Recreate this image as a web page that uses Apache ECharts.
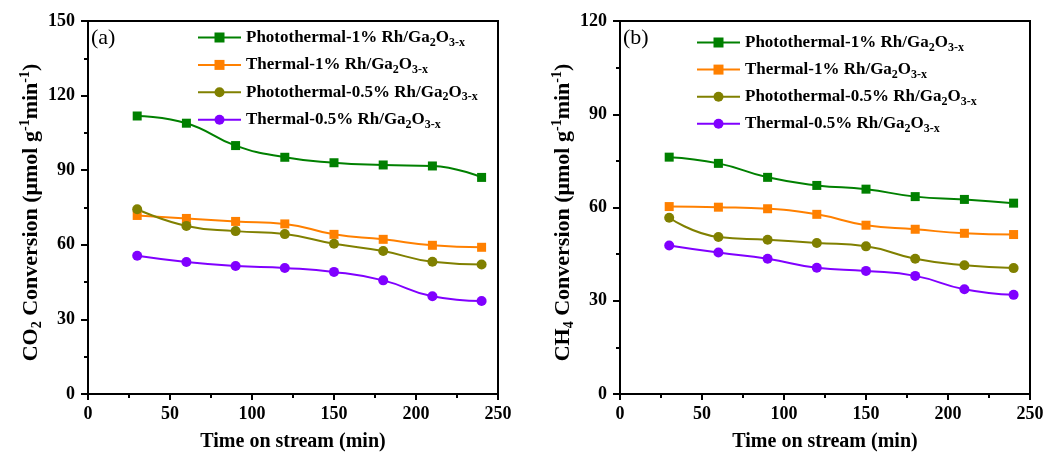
<!DOCTYPE html>
<html>
<head>
<meta charset="utf-8">
<script src="https://cdn.jsdelivr.net/npm/echarts@6/dist/echarts.min.js"></script>
<style>
  html, body { margin: 0; padding: 0; background: #fff; }
  #chart { width: 1046px; height: 452px; }
</style>
</head>
<body>
<div id="chart"></div>
<script>
// time on stream (min)
const times = [30, 60, 90, 120, 150, 180, 210, 240];

// (a) CO2 conversion
const co2Photo1 = [111.8, 108.9, 99.9, 95.2, 93.0, 92.1, 91.7, 87.1];
const co2Thermal1 = [71.8, 70.6, 69.4, 68.4, 64.2, 62.2, 59.8, 59.0];
const co2Photo05 = [74.3, 67.6, 65.5, 64.3, 60.4, 57.5, 53.2, 52.1];
const co2Thermal05 = [55.6, 53.1, 51.5, 50.7, 49.1, 45.7, 39.3, 37.4];

// (b) CH4 conversion
const ch4Photo1 = [76.2, 74.2, 69.7, 67.1, 65.9, 63.5, 62.6, 61.4];
const ch4Thermal1 = [60.3, 60.1, 59.6, 57.8, 54.3, 53.0, 51.7, 51.3];
const ch4Photo05 = [56.7, 50.5, 49.6, 48.6, 47.5, 43.5, 41.4, 40.5];
const ch4Thermal05 = [47.8, 45.5, 43.5, 40.6, 39.6, 38.0, 33.7, 31.9];

// legend names / colours / symbols
const names = ["Photothermal-1%", "Thermal-1%", "Photothermal-0.5%", "Thermal-0.5%"];
const colors = ["#008000", "#ff8000", "#808000", "#8000ff"];
const symbols = ["rect", "rect", "circle", "circle"];

const FONT = "'Liberation Serif', 'Times New Roman', serif";

function pairs(vals) {
  return times.map(function (t, i) { return [t, vals[i]]; });
}

function makeSeries(idx, vals, k) {
  return {
    name: names[k],
    type: "line",
    xAxisIndex: idx,
    yAxisIndex: idx,
    smooth: 0.5,
    symbol: symbols[k],
    symbolSize: symbols[k] === "rect" ? 9 : 10,
    color: colors[k],
    lineStyle: { width: 2, color: colors[k] },
    itemStyle: { color: colors[k] },
    data: pairs(vals)
  };
}

// text styles with sub/superscripts
const rich = {
  a: { fontFamily: FONT, fontWeight: "bold", fontSize: 17, color: "#000", lineHeight: 22 },
  s: { fontFamily: FONT, fontWeight: "bold", fontSize: 12, color: "#000", lineHeight: 12, verticalAlign: "bottom" }
};
const richTitle = {
  a: { fontFamily: FONT, fontWeight: "bold", fontSize: 22, color: "#000", lineHeight: 26 },
  s: { fontFamily: FONT, fontWeight: "bold", fontSize: 14, color: "#000", lineHeight: 14, verticalAlign: "bottom" },
  p: { fontFamily: FONT, fontWeight: "bold", fontSize: 14, color: "#000", lineHeight: 14, verticalAlign: "top" }
};

function legendFmt(name) {
  return "{a|" + name + " Rh/Ga}{s|2}{a|O}{s|3-x}";
}

function makeLegend(left, top, gap) {
  return {
    orient: "vertical",
    left: left,
    top: top,
    padding: 0,
    itemWidth: 43,
    itemHeight: 12.5,
    itemGap: gap,
    selectedMode: false,
    data: names,
    formatter: legendFmt,
    textStyle: { rich: rich }
  };
}

function xAxisOf(idx) {
  return {
    gridIndex: idx,
    type: "value",
    min: 0,
    max: 250,
    interval: 50,
    name: "Time on stream (min)",
    nameLocation: "middle",
    nameGap: 38,
    nameTextStyle: { fontFamily: FONT, fontWeight: "bold", fontSize: 20, color: "#000" },
    axisLine: { show: true, lineStyle: { color: "#000", width: 2 } },
    axisTick: { show: true, inside: false, length: 6, lineStyle: { color: "#000", width: 2 } },
    minorTick: { show: true, splitNumber: 2, length: 4, lineStyle: { color: "#000", width: 2 } },
    axisLabel: { margin: 11, fontFamily: FONT, fontWeight: "bold", fontSize: 18, color: "#000" },
    splitLine: { show: false }
  };
}

function yAxisOf(idx, max, title) {
  return {
    gridIndex: idx,
    type: "value",
    min: 0,
    max: max,
    interval: 30,
    name: title,
    nameLocation: "middle",
    nameGap: 40,
    nameTextStyle: { rich: richTitle, padding: [0, 10, 0, 0] },
    axisLine: { show: true, onZero: false, lineStyle: { color: "#000", width: 2 } },
    axisTick: { show: true, inside: false, length: 7, lineStyle: { color: "#000", width: 2 } },
    minorTick: { show: true, splitNumber: 2, length: 4, lineStyle: { color: "#000", width: 2 } },
    axisLabel: { margin: 13, fontFamily: FONT, fontWeight: "bold", fontSize: 18, color: "#000" },
    splitLine: { show: false }
  };
}

const chart = echarts.init(document.getElementById("chart"), null, { renderer: "canvas" });

const option = {
  backgroundColor: "#fff",
  animation: false,
  title: [
    { text: "(a)", left: 91, top: 27, padding: 0,
      textStyle: { fontFamily: FONT, fontWeight: "normal", fontSize: 22, color: "#000" } },
    { text: "(b)", left: 623, top: 27, padding: 0,
      textStyle: { fontFamily: FONT, fontWeight: "normal", fontSize: 22, color: "#000" } }
  ],
  legend: [makeLegend(197, 29, 7.9), makeLegend(696, 34, 7.6)],
  grid: [
    { left: 88, right: 548, top: 21, bottom: 58, outerBoundsMode: "none", containLabel: false,
      show: true, borderColor: "#000", borderWidth: 2, backgroundColor: "transparent" },
    { left: 620, right: 16, top: 21, bottom: 58, outerBoundsMode: "none", containLabel: false,
      show: true, borderColor: "#000", borderWidth: 2, backgroundColor: "transparent" }
  ],
  xAxis: [xAxisOf(0), xAxisOf(1)],
  yAxis: [
    yAxisOf(0, 150, "{a|CO}{s|2}{a| Conversion (μmol g}{p|-1}{a|min}{p|-1}{a|)}"),
    yAxisOf(1, 120, "{a|CH}{s|4}{a| Conversion (μmol g}{p|-1}{a|min}{p|-1}{a|)}")
  ],
  series: [
    makeSeries(0, co2Photo1, 0),
    makeSeries(0, co2Thermal1, 1),
    makeSeries(0, co2Photo05, 2),
    makeSeries(0, co2Thermal05, 3),
    makeSeries(1, ch4Photo1, 0),
    makeSeries(1, ch4Thermal1, 1),
    makeSeries(1, ch4Photo05, 2),
    makeSeries(1, ch4Thermal05, 3)
  ]
};

chart.setOption(option);
</script>
</body>
</html>
